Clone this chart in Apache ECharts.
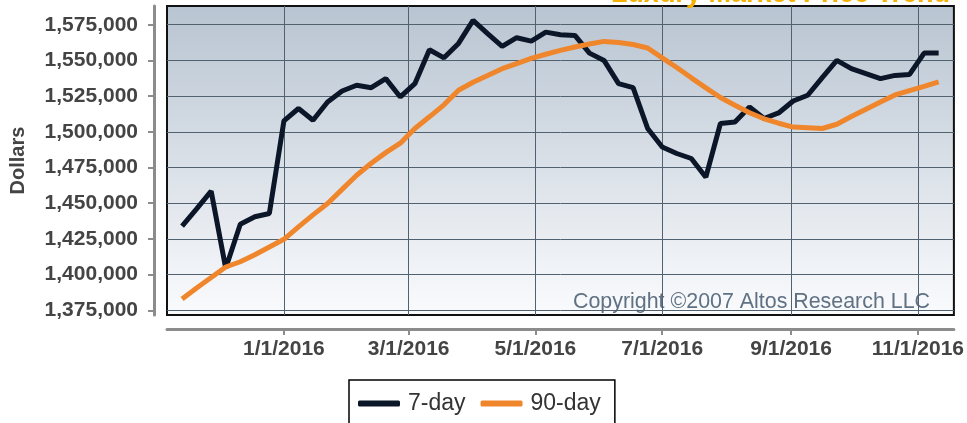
<!DOCTYPE html>
<html lang="en">
<head>
    <meta charset="UTF-8">
    <title>Luxury Market Price Trend</title>
    <script src="https://cdn.jsdelivr.net/npm/echarts@6/dist/echarts.min.js"></script>
    <style>
        html, body { margin: 0; padding: 0; background: #fff; }
        #main { width: 967px; height: 423px; }
    </style>
</head>
<body>
<div id="main"></div>
<script type="text/javascript">
    // weekly points, first one on 11/13/2015
    var firstWeek = [2015, 10, 13];
    var weekCount = 53;

    var sevenDay = [
        1434000, 1446000, 1458400, 1404400, 1435300, 1440500, 1442800, 1507600, 1516300, 1508100,
        1520900, 1528600, 1532600, 1530900, 1537200, 1524400, 1533700, 1557500, 1551800, 1561900,
        1578000, 1568700, 1559800, 1565900, 1563500, 1569800, 1568000, 1567500, 1555100, 1550000,
        1533700, 1530900, 1502300, 1489400, 1484800, 1481300, 1468200, 1505800, 1506900, 1517400,
        1509300, 1513200, 1521600, 1525600, 1537900, 1550000, 1544200, 1540700, 1537200, 1539500,
        1540200, 1555100, 1555100
    ];
    var ninetyDay = [
        1382900, 1390600, 1397900, 1405300, 1409000, 1413900, 1419300, 1424700, 1433400, 1441800,
        1449800, 1459700, 1469600, 1478000, 1485400, 1492000, 1502300, 1510500, 1518900, 1529100,
        1534700, 1539500, 1544200, 1547800, 1551400, 1554300, 1557000, 1559400, 1561500, 1563300,
        1562600, 1561100, 1558700, 1551800, 1545000, 1537800, 1530800, 1524000, 1518600, 1513300,
        1509100, 1506000, 1503300, 1502800, 1502300, 1505300, 1510700, 1515800, 1520900, 1525800,
        1528800, 1531800, 1534900
    ];
    var yTicks = [1375000, 1400000, 1425000, 1450000, 1475000, 1500000, 1525000, 1550000, 1575000];
    var xTicks = [[2016, 0, 1], [2016, 2, 1], [2016, 4, 1], [2016, 6, 1], [2016, 8, 1], [2016, 10, 1]];

    var DAY = 24 * 3600 * 1000;
    var start = Date.UTC(firstWeek[0], firstWeek[1], firstWeek[2]);
    var seven = [], ninety = [];
    for (var i = 0; i < weekCount; i++) {
        seven.push([start + i * 7 * DAY, sevenDay[i]]);
        ninety.push([start + i * 7 * DAY, ninetyDay[i]]);
    }
    var xTickTimes = xTicks.map(function (d) { return Date.UTC(d[0], d[1], d[2]); });

    var font = 'Liberation Sans, Arial, sans-serif';
    var myChart = echarts.init(document.getElementById('main'));
    var option = {
        animation: false,
        textStyle: { fontFamily: font },
        title: {
            text: 'Luxury Market Price Trend',
            right: 12,
            top: -24,
            textStyle: { color: '#f5b000', fontSize: 27, fontWeight: 'bold', fontFamily: font }
        },
        legend: {
            left: 349,
            top: 380,
            padding: [12, 14, 30, 9],
            borderColor: '#000',
            borderWidth: 1.5,
            icon: 'roundRect',
            itemWidth: 42,
            itemHeight: 6,
            itemGap: 15,
            textStyle: { fontSize: 23, color: '#333', fontFamily: font, padding: [0, 0, 0, 3] },
            data: ['7-day', '90-day']
        },
        grid: {
            left: 167,
            right: 11,
            top: 6,
            bottom: 108,
            show: true,
            borderColor: '#111',
            borderWidth: 2,
            backgroundColor: new echarts.graphic.LinearGradient(0, 0, 0, 1, [
                { offset: 0, color: '#b8c4d1' },
                { offset: 1, color: '#fafbfd' }
            ])
        },
        xAxis: {
            type: 'value',
            min: Date.UTC(2015, 10, 5, 18),
            max: Date.UTC(2016, 10, 18, 8),
            offset: 14,
            axisLine: { show: true, lineStyle: { color: '#8c8c8c', width: 3 } },
            axisTick: { show: true, customValues: xTickTimes, length: 6, lineStyle: { color: '#8c8c8c', width: 2 } },
            axisLabel: {
                customValues: xTickTimes,
                margin: 10,
                fontSize: 21,
                fontWeight: 'bold',
                color: '#444',
                fontFamily: font,
                formatter: function (v) {
                    var d = new Date(v);
                    return (d.getUTCMonth() + 1) + '/' + d.getUTCDate() + '/' + d.getUTCFullYear();
                }
            },
            splitLine: { show: true, lineStyle: { color: '#52616f', width: 1 } }
        },
        yAxis: {
            type: 'value',
            min: 1371700,
            max: 1588100,
            offset: 13,
            name: 'Dollars',
            nameLocation: 'middle',
            nameGap: 126,
            nameTextStyle: { fontSize: 20, fontWeight: 'bold', color: '#444', fontFamily: font },
            axisLine: { show: true, lineStyle: { color: '#8c8c8c', width: 3 } },
            axisTick: { show: true, customValues: yTicks, length: 6, lineStyle: { color: '#8c8c8c', width: 2 } },
            axisLabel: {
                customValues: yTicks,
                margin: 16,
                fontSize: 21,
                fontWeight: 'bold',
                color: '#444',
                fontFamily: font,
                formatter: function (v) { return v.toLocaleString('en-US'); }
            },
            splitLine: { show: true, lineStyle: { color: '#52616f', width: 1 } }
        },
        graphic: [
            {
                type: 'text',
                left: 573,
                top: 292,
                z: 0,
                style: {
                    text: 'Copyright \u00a92007 Altos Research LLC',
                    fill: '#5f7183',
                    font: '21.4px Liberation Sans'
                }
            }
        ],
        series: [
            {
                name: '7-day',
                type: 'line',
                data: seven,
                symbol: 'none',
                lineStyle: { color: '#0b1628', width: 5 },
                itemStyle: { color: '#0b1628' }
            },
            {
                name: '90-day',
                type: 'line',
                data: ninety,
                symbol: 'none',
                lineStyle: { color: '#f0862c', width: 5 },
                itemStyle: { color: '#f0862c' }
            }
        ]
    };
    myChart.setOption(option);
</script>
</body>
</html>
